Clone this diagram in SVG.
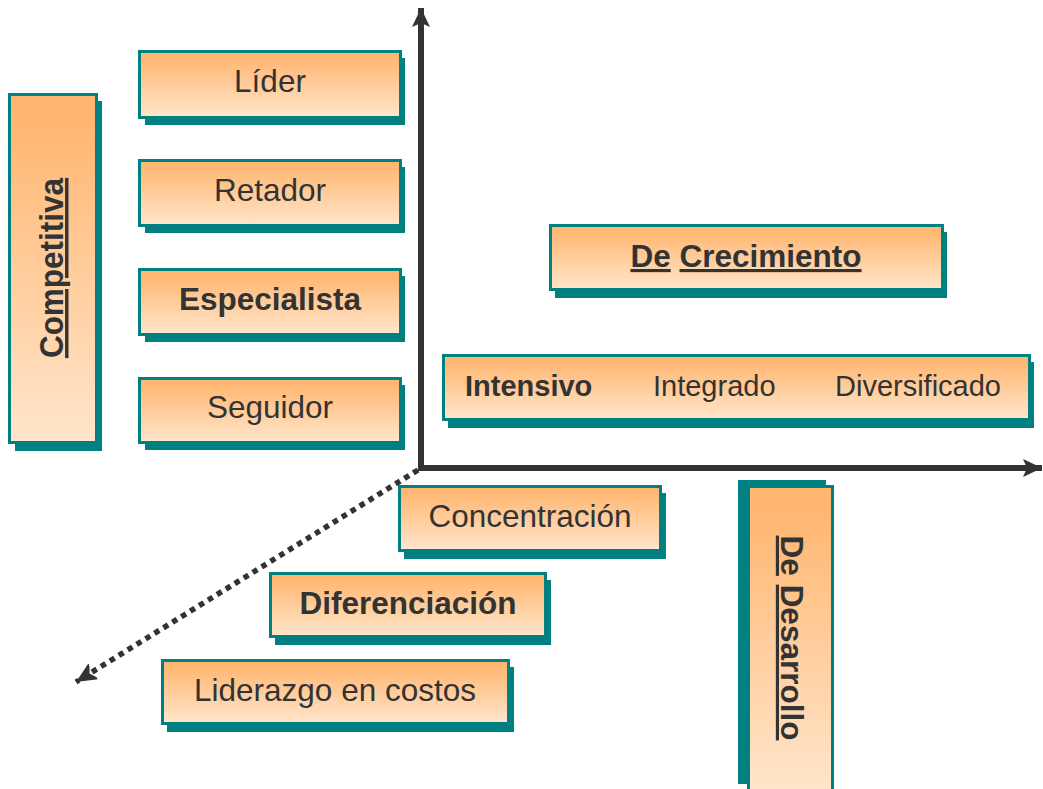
<svg xmlns="http://www.w3.org/2000/svg" width="1043" height="789" viewBox="0 0 1043 789">
<defs>
<linearGradient id="g" x1="0" y1="0" x2="0" y2="1">
<stop offset="0" stop-color="#FFB56E"/>
<stop offset="0.15" stop-color="#FFBA78"/>
<stop offset="1" stop-color="#FFE6CC"/>
</linearGradient>
<marker id="ah" markerUnits="userSpaceOnUse" viewBox="-20 -10 22 20" refX="0" refY="0" markerWidth="22" markerHeight="20" orient="auto">
<path d="M0,0 L-19,-9 L-15,0 L-19,9 Z" fill="#333"/>
</marker>
<marker id="ah2" markerUnits="userSpaceOnUse" viewBox="-20 -10 22 20" refX="0" refY="0" markerWidth="22" markerHeight="20" orient="auto">
<path d="M0,0 L-22,-10 L-16,0 L-22,10 Z" fill="#333"/>
</marker>
<style>
.sh{fill:#008080}
.bx{fill:url(#g);stroke:#008080;stroke-width:3}
.t{font-family:"Liberation Sans",Arial,sans-serif;font-size:31.5px;fill:#333;text-anchor:middle}
.b{font-weight:bold}
.s{font-family:"Liberation Sans",Arial,sans-serif;font-size:29px;fill:#333}
.u{text-decoration:underline}
.ax{fill:none;stroke:#333;stroke-width:6}
.dot{fill:none;stroke:#333;stroke-width:5.5;stroke-dasharray:5.5 5}
</style>
</defs>
<g id="connectors">
<line class="ax" x1="421" y1="470" x2="421" y2="8" marker-end="url(#ah)"/>
<line class="ax" x1="418" y1="468" x2="1042" y2="468" marker-end="url(#ah)"/>
<line class="dot" x1="418" y1="470" x2="76" y2="682" marker-end="url(#ah2)"/>
</g>
<g id="competitiva">
<rect class="sh" x="15" y="101" width="87" height="350"/>
<rect class="bx" x="9.5" y="94.5" width="87" height="348"/>
<text class="t b" transform="translate(63,268) rotate(-90) scale(1,1.08)"><tspan class="u">Competitiva</tspan></text>
</g>
<g id="lider">
<rect class="sh" x="145" y="58" width="260" height="67"/>
<rect class="bx" x="139.5" y="51.5" width="261" height="66"/>
<text class="t" x="270" y="92">Líder</text>
</g>
<g id="retador">
<rect class="sh" x="145" y="167" width="260" height="66"/>
<rect class="bx" x="139.5" y="160.5" width="261" height="65"/>
<text class="t" x="270" y="201">Retador</text>
</g>
<g id="especialista">
<rect class="sh" x="145" y="276" width="260" height="66"/>
<rect class="bx" x="139.5" y="269.5" width="261" height="65"/>
<text class="t b" x="270" y="310">Especialista</text>
</g>
<g id="seguidor">
<rect class="sh" x="145" y="385" width="260" height="65"/>
<rect class="bx" x="139.5" y="378.5" width="261" height="64"/>
<text class="t" x="270" y="418">Seguidor</text>
</g>
<g id="crecimiento">
<rect class="sh" x="555" y="232" width="392" height="66"/>
<rect class="bx" x="550.5" y="225.5" width="392" height="64"/>
<text class="t b" x="746" y="267"><tspan class="u">De</tspan> <tspan class="u">Crecimiento</tspan></text>
</g>
<g id="tipos">
<rect class="sh" x="448" y="362" width="586" height="66"/>
<rect class="bx" x="443.5" y="355.5" width="586" height="64"/>
<text class="s b" x="465" y="396">Intensivo</text>
<text class="s" x="653" y="396">Integrado</text>
<text class="s" x="835" y="396">Diversificado</text>
</g>
<g id="concentracion">
<rect class="sh" x="404" y="493" width="262" height="66"/>
<rect class="bx" x="399.5" y="486.5" width="261" height="64"/>
<text class="t" x="530" y="527">Concentración</text>
</g>
<g id="diferenciacion">
<rect class="sh" x="275" y="580" width="276" height="65"/>
<rect class="bx" x="270.5" y="573.5" width="275" height="63"/>
<text class="t b" x="408" y="614">Diferenciación</text>
</g>
<g id="liderazgo">
<rect class="sh" x="167" y="667" width="347" height="65"/>
<rect class="bx" x="162.5" y="660.5" width="346" height="63"/>
<text class="t" x="335" y="701">Liderazgo en costos</text>
</g>
<g id="desarrollo">
<rect class="sh" x="738" y="480" width="88" height="304"/>
<rect class="bx" x="748.5" y="486.5" width="84" height="306"/>
<text class="t b" transform="translate(781,638) rotate(90)"><tspan class="u">De</tspan> <tspan class="u">Desarrollo</tspan></text>
</g>
</svg>
